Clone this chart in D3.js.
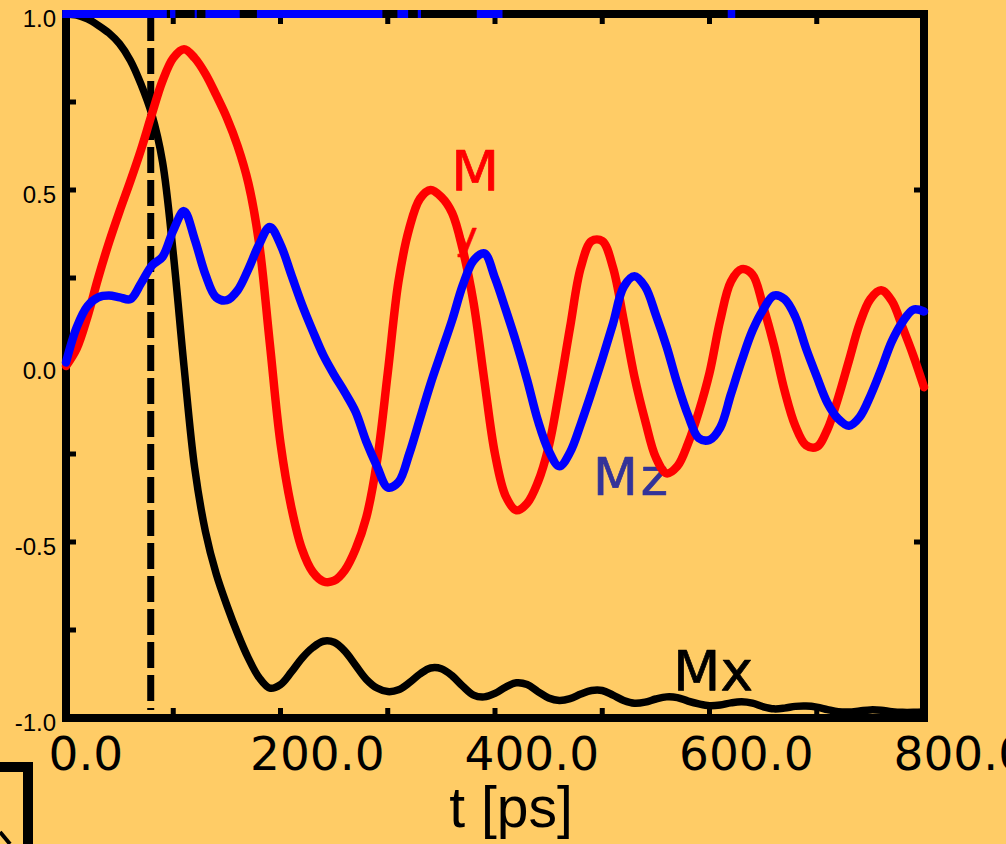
<!DOCTYPE html>
<html>
<head>
<meta charset="utf-8">
<script src="https://cdn.jsdelivr.net/npm/d3@7"></script>
<style>
  html, body { margin: 0; padding: 0; background: #FFCC66; }
  svg { display: block; }
</style>
</head>
<body>
<svg id="chart" width="1006" height="844"></svg>
<script>
// Time axis (ps), sampled every 10 ps
const times = d3.range(0, 801, 10);

// Mx component
const mx = [
  1.0, 0.997, 0.986, 0.968, 0.946, 0.915, 0.868, 0.8, 0.715, 0.58,
  0.32, 0.0, -0.29, -0.47, -0.59, -0.68, -0.76, -0.83, -0.885, -0.915,
  -0.905, -0.87, -0.83, -0.8, -0.782, -0.785, -0.81, -0.85, -0.89, -0.915,
  -0.925, -0.92, -0.9, -0.875, -0.858, -0.86, -0.88, -0.91, -0.935, -0.94,
  -0.93, -0.912, -0.9, -0.905, -0.925, -0.943, -0.95, -0.945, -0.932, -0.922,
  -0.922, -0.935, -0.95, -0.958, -0.955, -0.946, -0.94, -0.942, -0.952, -0.96,
  -0.965, -0.963, -0.957, -0.954, -0.958, -0.968, -0.974, -0.972, -0.967, -0.966,
  -0.969, -0.976, -0.982, -0.983, -0.98, -0.977, -0.978, -0.982, -0.984, -0.984,
  -0.983
];

// My component
const my = [
  0.0, 0.05, 0.14, 0.25, 0.35, 0.44, 0.525, 0.615, 0.715, 0.81,
  0.875, 0.9, 0.875, 0.83, 0.77, 0.705, 0.625, 0.52, 0.35, 0.065,
  -0.22, -0.4, -0.52, -0.585, -0.612, -0.61, -0.58, -0.52, -0.43, -0.27,
  -0.02, 0.24, 0.39, 0.475, 0.5, 0.48, 0.435, 0.33, 0.18, -0.04,
  -0.25, -0.37, -0.41, -0.39, -0.33, -0.23, -0.07, 0.11, 0.28, 0.355,
  0.355, 0.28, 0.13, -0.03, -0.155, -0.26, -0.305, -0.285, -0.22, -0.13,
  -0.02, 0.13, 0.24, 0.275, 0.26, 0.17, 0.06, -0.07, -0.17, -0.225,
  -0.23, -0.18, -0.09, 0.015, 0.12, 0.19, 0.215, 0.185, 0.11, 0.03,
  -0.06
];

// Mz component
const mz = [
  0.01, 0.11, 0.17, 0.195, 0.2, 0.195, 0.19, 0.235, 0.285, 0.31,
  0.385, 0.44, 0.36, 0.26, 0.195, 0.187, 0.215, 0.275, 0.345, 0.395,
  0.345, 0.26, 0.175, 0.1, 0.03, -0.025, -0.075, -0.13, -0.215, -0.285,
  -0.345, -0.33, -0.25, -0.15, -0.05, 0.04, 0.13, 0.23, 0.3, 0.32,
  0.25, 0.16, 0.065, -0.04, -0.155, -0.24, -0.285, -0.245, -0.165, -0.075,
  0.02, 0.12, 0.225, 0.255, 0.225, 0.145, 0.055, -0.05, -0.14, -0.205,
  -0.21, -0.175, -0.08, 0.015, 0.1, 0.16, 0.2, 0.19, 0.14, 0.05,
  -0.03, -0.105, -0.15, -0.17, -0.145, -0.085, -0.01, 0.07, 0.125, 0.16,
  0.155
];

// |M| = 1 trace along the top edge (time intervals where it shows)
const normValue = 1.0;
const normSegments = [[-3.5, 94], [97, 102], [120, 122], [130, 162], [178, 295],
                      [309, 319], [328, 331], [383, 407], [617, 624]];

// Pulse marker time
const markerTime = 79;

// Axis ticks
const xLabelTicks = [0, 200, 400, 600, 800];
const xMinorTicks = [100, 200, 300, 400, 500, 600, 700];
const yLabelTicks = [1.0, 0.5, 0.0, -0.5, -1.0];
const yLeftMinor = [0.75, 0.5, 0.25, -0.25, -0.5, -0.75];
const yRightMinor = [0.5, -0.5];
const xTitle = "t [ps]";

const svg = d3.select("#chart");
const W = 1006, H = 844;
svg.append("rect").attr("width", W).attr("height", H).attr("fill", "#FFCC66");

const x = d3.scaleLinear().domain([0, 800]).range([66, 924]);
const y = d3.scaleLinear().domain([-1, 1]).range([718, 14]);

// Plain hyphen for negatives, one decimal place
const fmt1 = d => d3.format(".1f")(d).replace("\u2212", "-");

// Minor tick marks, pointing inward
const tickG = svg.append("g").attr("stroke", "#000").attr("stroke-width", 5);
tickG.selectAll("line.bt").data(xMinorTicks).join("line")
  .attr("x1", d => x(d)).attr("x2", d => x(d)).attr("y1", y(-1)).attr("y2", y(-1) - 10);
tickG.selectAll("line.tt").data(xMinorTicks).join("line")
  .attr("x1", d => x(d)).attr("x2", d => x(d)).attr("y1", y(1)).attr("y2", y(1) + 10);
tickG.selectAll("line.lt").data(yLeftMinor).join("line")
  .attr("x1", x(0)).attr("x2", x(0) + 10).attr("y1", d => y(d)).attr("y2", d => y(d));
tickG.selectAll("line.rt").data(yRightMinor).join("line")
  .attr("x1", x(800)).attr("x2", x(800) - 10).attr("y1", d => y(d)).attr("y2", d => y(d));

// Plot frame
svg.append("rect")
  .attr("x", x(0)).attr("y", y(1))
  .attr("width", x(800) - x(0)).attr("height", y(-1) - y(1))
  .attr("fill", "none").attr("stroke", "#000").attr("stroke-width", 8);

// Dashed marker line
svg.append("line")
  .attr("x1", x(markerTime)).attr("x2", x(markerTime))
  .attr("y1", y(1) + 1).attr("y2", y(-1) - 8)
  .attr("stroke", "#000").attr("stroke-width", 7)
  .attr("stroke-dasharray", "26,7");

// Y tick labels
svg.append("g").selectAll("text").data(yLabelTicks).join("text")
  .attr("x", 56).attr("y", d => y(d) + 4)
  .attr("text-anchor", "end").attr("dominant-baseline", "central")
  .attr("font-family", "Liberation Sans, Arial, sans-serif")
  .attr("font-size", 24).attr("fill", "#000")
  .text(fmt1);

// X tick labels via a bottom axis
const xAxis = d3.axisBottom(x).tickValues(xLabelTicks).tickSize(0).tickFormat(fmt1);
const xg = svg.append("g").attr("transform", `translate(0,${y(-1)})`).call(xAxis);
xg.select(".domain").remove();
xg.selectAll("text")
  .attr("font-family", "DejaVu Sans, sans-serif")
  .attr("font-size", 47).attr("fill", "#000")
  .attr("text-anchor", "start")
  .attr("dy", null).attr("y", 52)
  .attr("dx", (d, i) => i === 0 ? -18 : -31);

// X axis title
svg.append("text")
  .attr("x", 511).attr("y", 827)
  .attr("text-anchor", "middle")
  .attr("font-family", "Liberation Sans, Arial, sans-serif")
  .attr("font-size", 57).attr("fill", "#000")
  .text(xTitle);

// Series labels (drawn beneath the curves)
const labelFont = "DejaVu Sans, sans-serif";
function seriesLabel(px, py, size, color, txt, spacing) {
  svg.append("text").attr("x", px).attr("y", py)
    .attr("font-family", labelFont).attr("font-size", size)
    .attr("letter-spacing", spacing || 0)
    .attr("fill", color).attr("stroke", color).attr("stroke-width", 0.7)
    .attr("stroke-linejoin", "round")
    .text(txt);
}
seriesLabel(451, 190, 56, "#FF0000", "M");
seriesLabel(455, 249, 38, "#FF0000", "y");
seriesLabel(593, 495, 52, "#333399", "Mz", 3);
seriesLabel(673, 690, 55, "#000000", "Mx");

// Curves
const line = d3.line()
  .x((d, i) => x(times[i]))
  .y(d => y(d))
  .curve(d3.curveCatmullRom.alpha(0.5));

svg.append("path").datum(mx).attr("d", line)
  .attr("fill", "none").attr("stroke", "#000").attr("stroke-width", 7.5)
  .attr("stroke-linejoin", "round").attr("stroke-linecap", "round");
svg.append("path").datum(my).attr("d", line)
  .attr("fill", "none").attr("stroke", "#FF0000").attr("stroke-width", 8.5)
  .attr("stroke-linejoin", "round").attr("stroke-linecap", "round");
svg.append("path").datum(mz).attr("d", line)
  .attr("fill", "none").attr("stroke", "#0000FF").attr("stroke-width", 8.5)
  .attr("stroke-linejoin", "round").attr("stroke-linecap", "round");

// |M| trace on the top edge
svg.append("g").selectAll("line").data(normSegments).join("line")
  .attr("x1", d => x(d[0])).attr("x2", d => x(d[1]))
  .attr("y1", y(normValue)).attr("y2", y(normValue))
  .attr("stroke", "#0000FF").attr("stroke-width", 8);

// Corner of a neighbouring box at lower left
svg.append("path")
  .attr("d", "M0,767 H28 V844")
  .attr("fill", "none").attr("stroke", "#000").attr("stroke-width", 10);
svg.append("line")
  .attr("x1", 0).attr("y1", 832).attr("x2", 10).attr("y2", 844)
  .attr("stroke", "#000").attr("stroke-width", 4);
</script>
</body>
</html>
